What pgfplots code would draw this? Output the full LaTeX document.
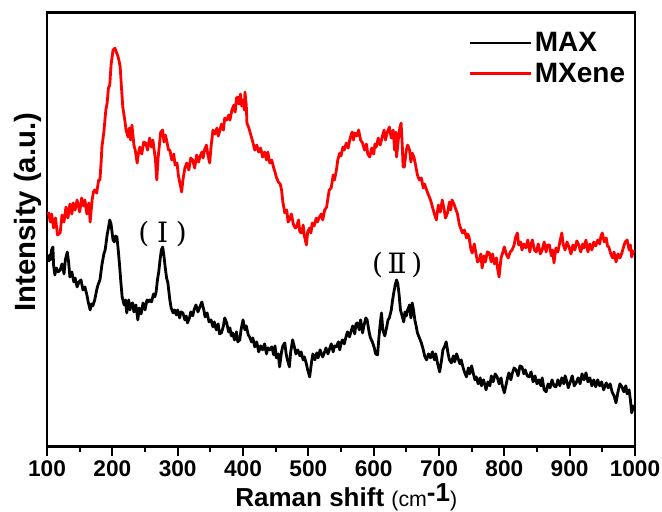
\documentclass[border=0pt]{standalone}
\usepackage{pgfplots}
\pgfplotsset{compat=1.18}
\usepackage{fontspec}
\setmainfont{Liberation Sans}
\newfontfamily\numfont{DejaVu Serif}

% MAX (black) spectrum, y in arbitrary units (stacked offset)
\pgfplotstableread{
x y
102 188
104 195
105 190
107 200
109 203
110 185
112 175
114 182
117 178
120 180
123 186
126 176
128 190
131 198
133 188
135 173
138 178
141 168
143 172
146 163
149 168
152 170
155 160
158 163
161 155
163 148
166 140
168 146
170 144
173 150
176 160
178 165
181 170
184 185
187 196
189 200
192 215
194 222
196 230
198 226
201 210
203 208
205 214
207 213
209 200
211 185
213 168
215 153
218 145
220 150
222 137
225 150
227 140
229 146
231 147
233 138
236 145
239 130
241 142
244 136
247 147
250 140
253 150
255 148
257 150
260 148
263 156
265 153
267 158
269 170
271 178
273 190
275 200
277 203
279 194
281 182
283 172
285 167
288 150
290 142
293 137
295 140
298 135
300 140
303 132
305 138
308 137
311 130
313 134
315 127
318 132
320 138
323 134
325 140
328 145
331 138
334 143
337 148
340 140
342 133
345 137
348 128
351 130
354 123
356 128
359 120
362 126
364 116
367 117
370 124
372 132
375 127
378 118
380 122
382 114
384 117
387 110
390 118
392 108
395 110
397 120
400 130
403 120
405 124
408 115
410 113
413 108
415 112
418 103
421 108
424 98
427 104
430 100
433 106
436 96
438 102
441 100
444 103
447 95
449 104
451 92
454 96
456 83
459 98
461 104
464 107
466 96
468 90
471 83
473 98
476 110
479 102
481 96
484 100
487 94
489 98
492 90
494 93
497 86
499 80
502 73
505 88
507 96
510 90
513 97
515 92
518 100
520 96
522 93
525 98
527 102
530 96
532 100
535 106
538 98
540 104
543 103
546 108
548 100
550 106
552 110
555 106
558 114
560 118
563 113
566 120
568 124
571 116
573 126
575 127
578 120
580 130
583 117
585 124
588 132
590 130
593 118
595 112
598 108
601 102
603 96
606 95
608 112
610 126
612 137
614 120
617 114
620 123
622 130
624 132
627 140
629 150
631 158
633 165
635 170
637 166
639 155
641 140
644 133
646 128
648 138
650 134
652 140
655 145
657 132
659 147
661 140
663 130
665 124
667 117
670 112
673 107
676 100
678 94
681 90
684 96
687 92
690 98
693 90
695 96
698 86
701 78
704 90
706 100
709 104
711 108
714 96
716 90
719 87
722 94
724 88
727 96
729 92
732 86
734 90
737 82
739 78
742 73
745 82
747 76
750 84
752 78
755 70
757 73
760 66
763 72
765 64
768 70
770 66
772 60
775 68
778 64
780 74
783 68
786 76
789 73
792 66
795 72
797 64
800 57
803 66
805 72
807 77
810 70
812 76
815 82
818 80
821 74
824 84
827 83
830 76
832 80
835 74
838 73
841 78
844 68
847 74
850 66
853 70
856 64
858 72
861 60
864 58
867 66
870 62
873 70
876 64
879 63
882 70
885 64
888 72
891 66
893 74
895 70
898 62
901 68
904 74
907 64
910 67
913 72
916 66
919 76
922 70
925 77
928 68
931 72
934 64
937 70
940 63
943 70
946 64
949 68
952 60
956 67
959 62
962 66
965 58
968 54
971 47
974 58
977 66
980 63
983 58
986 64
988 56
991 60
993 50
995 37
997 42
998 45
}\maxdata

% MXene (red) spectrum
\pgfplotstableread{
x y
102 238
105 228
107 236
110 222
113 232
116 215
120 217
123 235
126 228
129 243
132 232
135 246
138 236
140 247
143 240
146 250
150 238
153 252
156 244
158 250
161 236
164 247
166 228
169 250
171 258
173 260
176 257
179 270
181 270
183 290
184 303
187 318
190 340
192 347
194 362
196 365
198 385
199 390
201 400
204 402
206 398
208 395
210 390
212 383
214 362
216 343
219 330
221 320
224 313
226 322
228 310
230 325
233 305
235 300
238 287
240 297
242 303
245 296
248 308
251 307
254 300
257 312
260 303
262 310
264 300
266 290
268 270
270 292
272 305
274 318
277 320
279 308
281 315
283 310
286 300
288 300
291 290
294 296
296 285
299 287
301 275
303 268
305 262
306 258
308 270
311 282
314 287
317 280
320 292
323 290
326 282
329 295
332 288
334 293
337 298
339 292
341 300
344 305
346 296
349 287
351 303
354 320
357 316
360 322
362 314
364 318
367 326
370 320
372 332
375 330
378 335
380 330
383 340
386 345
388 338
390 352
392 353
394 346
396 356
398 344
400 350
402 340
403 358
405 345
406 327
409 322
412 315
415 308
418 300
421 305
424 298
427 302
430 293
433 298
436 290
438 298
441 287
444 290
447 282
449 278
451 273
454 268
457 266
459 260
461 248
464 237
467 240
469 228
471 230
474 236
477 226
480 222
482 223
485 230
487 218
490 217
492 225
494 214
497 205
499 218
502 222
504 217
506 227
509 224
512 232
514 228
517 233
520 236
522 230
525 240
528 243
530 252
532 260
535 262
538 275
540 270
543 280
545 290
548 297
550 294
553 303
555 300
558 307
561 302
564 312
567 318
569 310
571 317
574 314
577 320
580 310
583 307
586 300
589 306
591 296
594 293
597 302
600 296
602 306
604 303
607 312
610 305
613 313
616 320
618 310
621 318
624 323
627 312
630 320
632 300
634 318
635 293
638 312
640 322
642 327
644 302
645 283
647 283
650 300
652 305
655 300
657 288
659 297
662 292
665 282
667 275
670 270
673 272
676 262
678 266
681 260
684 255
687 250
690 243
693 236
696 230
699 245
702 238
705 250
708 240
710 232
713 237
716 248
718 240
720 250
723 246
726 240
728 237
731 226
733 222
736 217
739 220
742 212
744 216
746 213
749 200
751 197
754 206
757 195
759 188
762 190
764 196
766 182
769 194
771 188
774 198
777 197
780 188
782 196
785 186
788 192
790 180
792 173
795 192
797 196
800 203
803 196
806 192
809 198
812 200
815 205
817 212
820 217
822 205
825 208
827 200
830 206
833 202
836 210
839 198
841 206
843 210
846 200
849 198
852 206
855 196
858 200
861 208
864 198
866 205
869 205
872 194
874 200
876 187
879 202
882 198
885 208
888 217
890 206
893 200
896 208
899 203
902 196
905 205
908 200
911 209
914 205
917 198
920 206
922 202
925 210
928 198
931 206
934 200
937 208
940 204
943 210
946 206
948 214
950 217
953 208
956 212
958 204
960 203
963 196
966 192
968 198
971 188
974 196
977 192
980 197
983 204
985 208
988 210
991 200
993 205
995 193
998 200
}\mxenedata

\begin{document}
\begin{tikzpicture}
\begin{axis}[
  scale only axis,
  width=441pt, height=326pt,
  xmin=100, xmax=1000, ymin=3, ymax=438,
  xtick={100,200,...,1000},
  minor x tick num=1,
  xtick pos=bottom,
  ytick=\empty,
  tick align=outside,
  major tick length=7pt,
  minor tick length=4pt,
  every tick/.style={line width=1.5pt, black},
  axis line style={line width=2pt},
  /pgf/number format/assume math mode=true,
  /pgf/number format/1000 sep={},
  ticklabel style={font=\fontsize{17}{17}\selectfont\bfseries},
  xlabel={\fontsize{19.5}{19.5}\selectfont\bfseries Raman shift {\mdseries\fontsize{16}{16}\selectfont(cm}\raisebox{0.2em}{-1}{\mdseries\fontsize{16}{16}\selectfont)}},
  xlabel style={at={(axis description cs:0.509,-0.116)}, anchor=center, inner sep=0pt},
  ylabel={\fontsize{22}{22}\selectfont\bfseries Intensity (a.u.)},
  ylabel style={at={(axis description cs:-0.032,0.54)}, anchor=center},
  legend style={draw=none, fill=none, at={(axis description cs:0.71,0.965)}, anchor=north west,
    font=\fontsize{21}{21}\selectfont\bfseries, row sep=4pt,
    nodes={inner sep=1.5pt}},
  legend cell align=left,
  legend image code/.code={\draw[#1] (0pt,0pt) -- (46pt,0pt);},
]
\addplot[black, line width=2.1pt, line join=round] table[x=x, y=y] {\maxdata};
\addlegendentry{MAX}
\addplot[red, line width=2.1pt, line join=round] table[x=x, y=y] {\mxenedata};
\addlegendentry{MXene}
\node[font=\numfont\fontsize{21}{21}\selectfont] at (axis cs:277,216) {(\;Ⅰ\;)};
\node[font=\numfont\fontsize{21}{21}\selectfont] at (axis cs:636,185) {(\,Ⅱ\,)};
\coordinate (bl) at (rel axis cs:-0.080,-0.149);
\coordinate (tr) at (rel axis cs:1.046,1.028);
\end{axis}
\pgfresetboundingbox
\path[use as bounding box] (bl) rectangle (tr);
\end{tikzpicture}
\end{document}
